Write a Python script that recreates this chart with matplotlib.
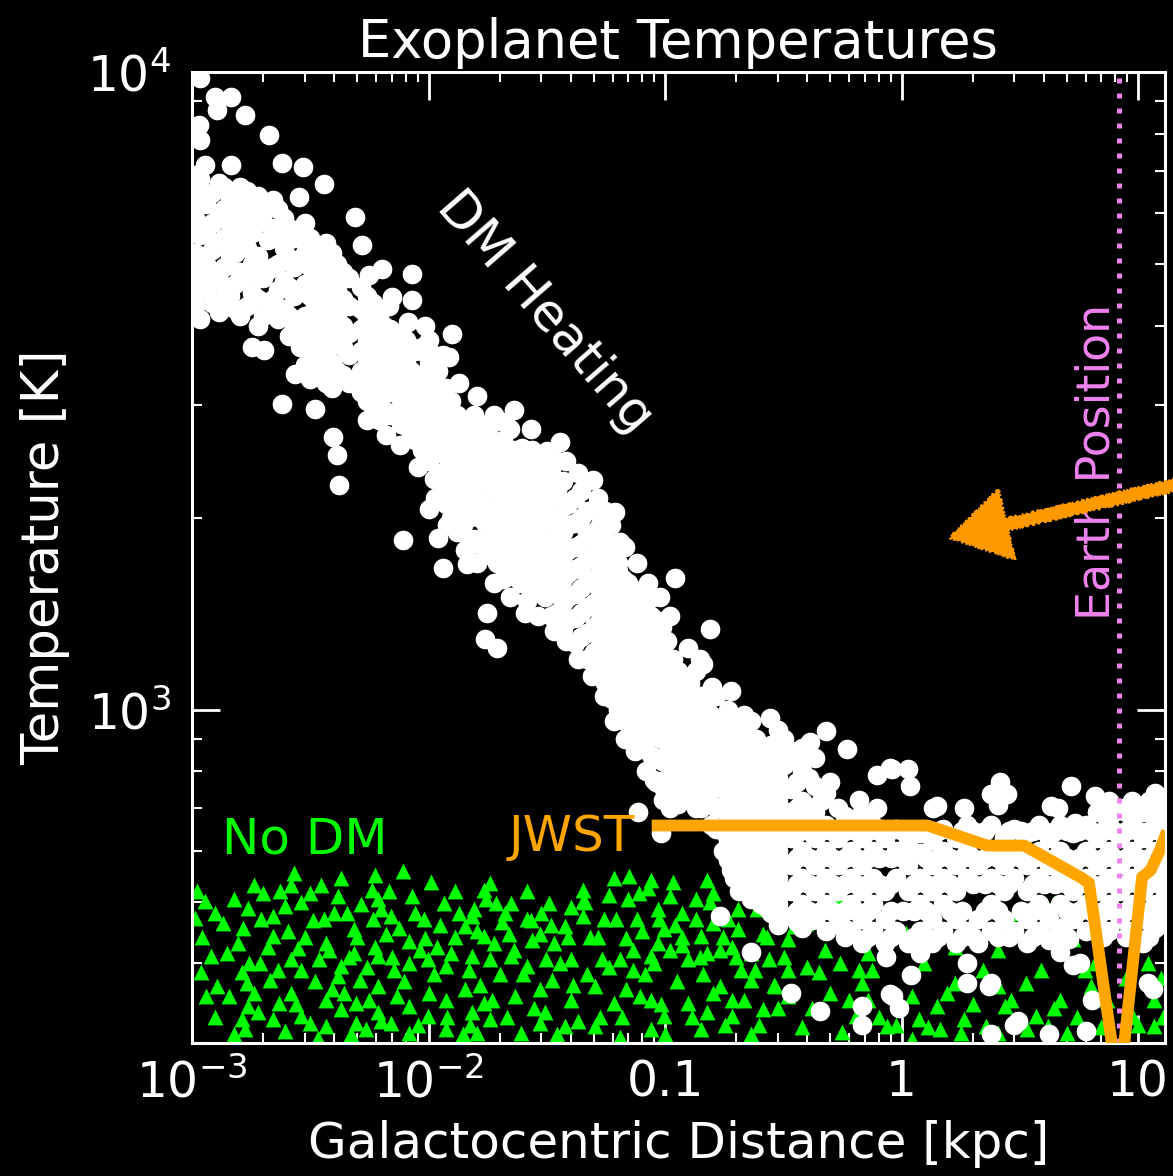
import numpy as np
import matplotlib
matplotlib.use("Agg")
import matplotlib.pyplot as plt
from matplotlib.patches import FancyArrowPatch
from matplotlib.ticker import FixedLocator, FixedFormatter, LogLocator, NullFormatter

plt.rcParams['font.family'] = ['DejaVu Sans']
plt.rcParams['mathtext.fontset'] = 'dejavusans'

# ---------------- data ----------------
earth_kpc = 8.3
jwst_x = [0.093, 1.29, 2.3, 3.3, 5.7, 6.2, 8.3, 10.4, 11.3, 12.4, 13.0]
jwst_T = [658, 658, 612, 612, 546, 535, 250, 546, 560, 603, 632]

# White dots ("DM heating") - sparse / outlying points
white_sparse_x = [1.08e-3, 1.25e-3, 1.46e-3, 1.28e-3, 1.68e-3, 1.07e-3, 1.08e-3, 2.12e-3, 2.40e-3, 2.95e-3,
                  1.46e-3, 1.13e-3, 1.03e-3, 3.62e-3, 2.83e-3, 2.01e-3, 4.89e-3, 5.24e-3, 6.36e-3, 8.52e-3,
                  7.0e-3, 8.5e-3, 1.26e-2, 1.22e-2, 9.4e-3, 1.05e-2, 1.11e-2, 2.40e-3, 3.31e-3, 2.73e-3,
                  3.0e-3, 1.79e-3, 2.01e-3, 9.1e-3, 1.89e-2, 2.11e-2,
                  7.8e-3, 1.1e-2, 1.0e-2, 1.15e-2, 1.45e-2, 1.77e-2, 1.73e-2, 1.94e-2, 4.2e-3, 3.95e-3,
                  4.1e-3, 4.96e-2, 5.06e-2, 6.15e-2, 6.44e-2, 6.3e-2, 0.110, 8.88e-2, 0.155, 0.145,
                  3.6e-2, 3.17e-2, 2.49e-2, 2.44e-2, 2.06e-2, 1.79e-2, 1.40e-2,
                  0.278, 0.30, 0.48, 0.41, 0.59, 0.79, 0.91, 1.07, 1.09, 0.50,
                  0.66, 0.79, 1.41, 1.84, 2.61, 2.39, 2.80, 2.56, 5.2, 6.6,
                  12.1, 5.4, 7.4, 4.6, 0.89, 1.36, 4.3, 0.09, 0.098, 0.077, 0.096, 0.158]
white_sparse_T = [9800, 9140, 9140, 8720, 8560, 8260, 7820, 7970, 7200, 7100,
                  7150, 7150, 6900, 6680, 6370, 6210, 5930, 5360, 4910, 4820,
                  4440, 4390, 3880, 3570, 3700, 3300, 2990, 3020, 2960, 3360,
                  3470, 3700, 3660, 3270, 2830, 2830,
                  1845, 1860, 2060, 1670, 1690, 1420, 1290, 1250, 2250, 2680,
                  2510, 2290, 2070, 2042, 1830, 1700, 1610, 1500, 1340, 1180,
                  2630, 2540, 2570, 2450, 2350, 2800, 2720,
                  971, 930, 924, 891, 866, 789, 808, 808, 760, 771,
                  722, 700, 706, 702, 771, 737, 737, 709, 758, 733,
                  731, 665, 677, 700, 810, 700, 705, 775, 722, 690, 640, 1086]

# White dots - ragged edges of the band and the top of the flat mass
white_edge_x = [5.6e-3, 6.8e-3, 8.2e-3, 9.7e-3, 1.15e-2, 1.35e-2, 1.6e-2, 1.9e-2, 2.3e-2, 2.7e-2,
                3.2e-2, 3.8e-2, 4.3e-2, 5.2e-2, 5.9e-2, 6.8e-2, 7.6e-2, 8.5e-2, 9.5e-2, 0.105,
                0.125, 0.14, 0.165, 0.19, 0.215,
                5.5e-3, 6.6e-3, 7.6e-3, 9.0e-3, 1.07e-2, 1.2e-2, 1.42e-2, 1.6e-2, 1.9e-2, 2.2e-2,
                2.55e-2, 2.9e-2, 3.4e-2, 3.8e-2, 4.3e-2, 4.9e-2, 5.5e-2, 6.1e-2, 6.8e-2, 7.5e-2,
                8.3e-2, 0.105,
                0.30, 0.32, 0.32, 0.34, 0.36, 0.38, 0.405, 0.43, 0.43]
white_edge_T = [4800, 4300, 4050, 4000, 3600, 3250, 3100, 2900, 2950, 2750,
                2500, 2450, 2350, 2150, 1950, 1800, 1700, 1580, 1500, 1400,
                1250, 1200, 1050, 1070, 980,
                2850, 2700, 2600, 2400, 2150, 1950, 1780, 1700, 1580, 1500,
                1420, 1400, 1330, 1280, 1200, 1130, 1050, 960, 900, 860,
                800, 700,
                850, 900, 820, 860, 830, 870, 780, 760, 840]

# White dots - dense core near 1e-3 .. 5e-3 kpc (column x value, T values)
white_core_x = [1.03e-3, 1.08e-3, 1.15e-3, 1.22e-3, 1.30e-3, 1.37e-3, 1.45e-3, 1.52e-3, 1.60e-3, 1.70e-3,
                1.80e-3, 1.90e-3, 2.00e-3, 2.10e-3, 2.20e-3, 2.32e-3, 2.45e-3, 2.57e-3, 2.70e-3, 2.85e-3,
                3.00e-3, 3.15e-3, 3.30e-3, 3.50e-3, 3.70e-3, 3.90e-3, 4.10e-3, 4.35e-3, 4.60e-3]
white_core_T = [
    [6500, 5900, 5200, 4800, 4300],
    [6800, 6200, 5550, 5000, 4550, 4100],
    [6200, 5600, 5000, 4550],
    [6450, 5800, 5250, 4750, 4350],
    [6700, 6000, 5400, 4700, 4200],
    [6600, 6100, 5500, 4950, 4450],
    [6350, 5750, 5150, 4450],
    [6300, 5700, 5200, 4650, 4250],
    [6600, 6000, 5450, 4850, 4150],
    [6500, 5850, 5300, 4750, 4300],
    [6200, 5600, 5000, 4500],
    [6400, 5800, 5150, 4400, 4000],
    [6000, 4750, 4150],
    [6150, 5450, 4900, 4350],
    [6300, 5700, 4950, 4400],
    [6100, 5500, 5000, 4550, 4100],
    [5900, 5300, 4700, 4250],
    [5700, 5100, 4600, 4150, 3850],
    [5500, 4950, 4450, 4000],
    [5650, 5050, 4550, 4100, 3700],
    [5800, 5200, 4650, 4150, 3800],
    [5500, 4950, 4450, 4000, 3650, 3300],
    [5300, 4800, 4300, 3900, 3500],
    [5100, 4600, 4150, 3750, 3400],
    [5400, 4900, 4450, 4050, 3600, 3250],
    [5200, 4700, 4300, 3900, 3500, 3200],
    [5000, 4550, 4150, 3800, 3400],
    [4850, 4400, 4000, 3700, 3350],
    [4750, 4300, 3900, 3600, 3250],
]

# White dots - diagonal band (column x value, T values in that column)
white_band_x = [5.2e-3, 5.5e-3, 5.8e-3, 6.15e-3, 6.5e-3, 6.9e-3, 7.3e-3, 7.65e-3, 8.0e-3, 8.4e-3,
                8.8e-3, 9.4e-3, 1.0e-2, 1.05e-2, 1.1e-2, 1.18e-2, 1.25e-2, 1.32e-2, 1.4e-2, 1.47e-2,
                1.55e-2, 1.65e-2, 1.75e-2, 1.85e-2, 1.95e-2, 2.07e-2, 2.2e-2, 2.32e-2, 2.45e-2, 2.6e-2,
                2.75e-2, 2.92e-2, 3.1e-2, 3.3e-2, 3.5e-2, 3.7e-2, 3.9e-2, 4.15e-2, 4.4e-2, 4.7e-2,
                5.0e-2, 5.3e-2, 5.6e-2, 5.95e-2, 6.3e-2, 6.65e-2, 7.0e-2, 7.4e-2, 7.8e-2, 8.25e-2,
                8.7e-2, 9.2e-2, 9.7e-2, 0.102, 0.108, 0.114, 0.12, 0.127, 0.135, 0.142,
                0.15, 0.157, 0.165, 0.175, 0.185, 0.195, 0.205, 0.218, 0.23, 0.242,
                0.255, 0.267, 0.28]
white_band_T = [
    [4600, 4250, 3950, 3650, 3400, 3150],
    [4450, 4100, 3800, 3550, 3300, 3050],
    [4350, 4000, 3750, 3500, 3250, 3000],
    [4150, 3850, 3600, 3350, 3100, 2850],
    [4000, 3750, 3500, 3250, 2950],
    [3950, 3650, 3400, 3150, 2900],
    [3900, 3650, 3400, 3150, 2900],
    [3800, 3550, 3300, 3050, 2800],
    [3800, 3500, 3250, 3000, 2780],
    [3700, 3400, 3150, 2900, 2700],
    [3650, 3350, 3100, 2850, 2650],
    [3650, 3350, 3050, 2800, 2550],
    [3800, 3500, 3200, 2950, 2700, 2450],
    [3600, 3300, 3050, 2800, 2550, 2300],
    [3400, 3100, 2850, 2600, 2350],
    [3200, 2950, 2700, 2500, 2250, 2100],
    [3050, 2800, 2600, 2400, 2200, 2000],
    [2900, 2700, 2500, 2300, 2100, 1900],
    [2750, 2550, 2350, 2150, 1950],
    [2800, 2600, 2400, 2200, 2000, 1800],
    [2900, 2650, 2450, 2250, 2050, 1850],
    [2750, 2550, 2350, 2150, 2000, 1820],
    [2700, 2500, 2300, 2100, 1950, 1780],
    [2650, 2450, 2250, 2050, 1900, 1740],
    [2600, 2400, 2200, 2000, 1850, 1700],
    [2650, 2450, 2250, 2080, 1900, 1750, 1600],
    [2750, 2500, 2300, 2150, 1950, 1800, 1620],
    [2550, 2350, 2150, 2000, 1830, 1680],
    [2400, 2200, 2050, 1880, 1720, 1580],
    [2450, 2280, 2100, 1920, 1760, 1620, 1480],
    [2550, 2350, 2150, 1950, 1800, 1650, 1520],
    [2400, 2200, 2030, 1870, 1720, 1570],
    [2300, 2100, 1950, 1780, 1640, 1500],
    [2350, 2150, 1970, 1810, 1670, 1530, 1400],
    [2450, 2200, 2000, 1850, 1700, 1560, 1420],
    [2280, 2080, 1900, 1750, 1600, 1470, 1340],
    [2100, 1950, 1780, 1640, 1500, 1380],
    [2150, 1960, 1800, 1660, 1520, 1390, 1270],
    [2200, 2000, 1820, 1680, 1550, 1420, 1300],
    [2050, 1880, 1720, 1580, 1450, 1320, 1200],
    [1900, 1750, 1600, 1470, 1350, 1230],
    [1950, 1800, 1650, 1510, 1380, 1260, 1150],
    [2050, 1850, 1700, 1550, 1420, 1300, 1190, 1100],
    [1750, 1600, 1470, 1350, 1230, 1130, 1040],
    [1650, 1520, 1400, 1280, 1170, 1080, 1000],
    [1600, 1470, 1350, 1240, 1140, 1050, 970],
    [1580, 1450, 1330, 1220, 1120, 1030, 950],
    [1540, 1410, 1300, 1190, 1090, 1000, 920],
    [1500, 1380, 1270, 1160, 1060, 980, 900],
    [1450, 1330, 1220, 1120, 1030, 950, 870],
    [1400, 1290, 1180, 1080, 1000, 920, 850],
    [1380, 1260, 1160, 1070, 990, 910, 840, 770],
    [1350, 1240, 1140, 1050, 970, 900, 830, 760],
    [1280, 1170, 1080, 1000, 920, 850, 780],
    [1200, 1100, 1020, 940, 870, 800, 740],
    [1150, 1050, 970, 900, 830, 770, 710],
    [1080, 1000, 930, 860, 795, 735],
    [1100, 1010, 930, 860, 790, 730],
    [1150, 1040, 960, 890, 820, 760, 700],
    [1050, 960, 890, 820, 760, 700],
    [1000, 925, 855, 790, 730],
    [980, 900, 830, 770, 710, 660],
    [950, 880, 815, 755, 700, 650],
    [970, 890, 820, 760, 700, 645, 600],
    [1000, 920, 850, 790, 730, 675, 625, 580],
    [940, 860, 800, 740, 685, 635, 590, 545],
    [900, 830, 770, 710, 660, 610, 560, 520],
    [910, 840, 775, 720, 665, 615, 570, 525],
    [960, 870, 800, 745, 690, 640, 590, 545, 505],
    [900, 830, 765, 705, 650, 600, 555, 515],
    [850, 790, 730, 675, 625, 580, 535, 495],
    [850, 785, 725, 670, 620, 575, 530, 490],
    [880, 815, 755, 700, 650, 600, 555, 515, 480],
]

# White dots - flat mass at large distance (column x value, T values)
white_mass_x = [0.30, 0.32, 0.34, 0.36, 0.38, 0.405, 0.43, 0.455, 0.48, 0.51,
                0.54, 0.575, 0.61, 0.645, 0.68, 0.72, 0.76, 0.805, 0.85, 0.9,
                0.95, 1.01, 1.07, 1.13, 1.2, 1.27, 1.35, 1.42, 1.5, 1.6,
                1.7, 1.8, 1.9, 2.0, 2.1, 2.25, 2.4, 2.55, 2.7, 2.85,
                3.0, 3.2, 3.4, 3.6, 3.8, 4.0, 4.2, 4.45, 4.7, 5.0,
                5.3, 5.65, 6.0, 6.35, 6.7, 7.1, 7.5, 7.95, 8.4, 8.9,
                9.4, 9.95, 10.5, 11.1, 11.8, 12.4, 13.0]
white_mass_T = [
    [780, 720, 660, 600, 545, 495, 460],
    [750, 690, 630, 575, 520, 475],
    [750, 690, 630, 570, 520, 475],
    [770, 700, 640, 585, 532, 483],
    [800, 720, 660, 600, 545, 495, 455],
    [700, 645, 585, 532, 483],
    [690, 630, 570, 520, 470],
    [720, 645, 585, 532, 483],
    [740, 660, 600, 545, 495, 450],
    [645, 585, 532, 483],
    [700, 630, 570, 520, 470],
    [680, 645, 585, 532, 483, 440],
    [660, 600, 545, 495, 450],
    [645, 585, 532, 483],
    [690, 630, 570, 520, 470, 430],
    [645, 585, 532, 483, 440],
    [660, 600, 545, 495, 450],
    [645, 585, 532],
    [630, 520, 470, 430],
    [585, 532, 483, 440],
    [650, 600, 545, 450],
    [645, 585, 483],
    [620, 570, 520, 430],
    [645, 532, 483, 440],
    [640, 595, 545, 495, 450, 415],
    [585, 532, 483, 440],
    [625, 570, 520, 470, 430],
    [645, 585, 532, 440],
    [650, 600, 545, 495, 450],
    [585, 532, 483],
    [630, 570, 520, 470, 430],
    [645, 585, 483, 440],
    [660, 600, 545, 450],
    [645, 585, 532, 440],
    [630, 570, 470, 430],
    [645, 585, 532, 483],
    [660, 600, 545, 495, 450],
    [585, 532, 483, 440],
    [630, 570, 520, 470],
    [645, 585, 532, 440],
    [650, 600, 545, 450],
    [645, 585, 483],
    [640, 570, 520, 470, 430],
    [645, 585, 532, 483, 440],
    [660, 600, 545, 495, 450],
    [645, 585, 532, 483],
    [630, 570, 470, 435],
    [645, 585, 532, 440],
    [660, 600, 545, 495, 455],
    [645, 585, 532, 483, 440],
    [640, 570, 520, 470],
    [645, 585, 532, 483],
    [660, 600, 545, 495, 450],
    [645, 585, 532, 483],
    [690, 630, 570, 520, 470],
    [690, 645, 585, 532, 483, 440],
    [720, 660, 600, 545, 495, 450],
    [690, 645, 585, 532, 483],
    [700, 630, 570, 520, 470],
    [690, 645, 585, 532, 483, 440],
    [720, 660, 600, 545, 495, 450],
    [690, 645, 585, 532, 483],
    [690, 630, 570, 520, 470, 430],
    [720, 645, 585, 532, 483, 440],
    [740, 660, 600, 545, 495, 455],
    [690, 645, 585, 532, 483],
    [700, 630, 570, 520, 470],
]

# White dots - low outliers
white_low_x = [0.17, 0.19, 0.23, 0.34, 0.45, 0.36, 0.42, 0.57, 0.68, 0.68,
               0.92, 0.86, 1.1, 1.9, 1.9, 2.4, 3.1, 2.4, 5.3, 4.7,
               4.2, 6.0, 0.89, 0.98, 3.0, 2.35, 5.7, 6.4, 11.0, 11.6, 5.1]
white_low_T = [474, 560, 416, 360, 337, 465, 467, 455, 343, 320,
               355, 410, 383, 400, 373, 373, 325, 310, 397, 416,
               310, 313, 358, 340, 320, 368, 400, 350, 373, 365, 436]

# Green triangles ("No DM")
green_x = [2.71e-3, 4.27e-3, 5.95e-3, 7.82e-3, 1.83e-3, 2.63e-3, 3.15e-3, 4.15e-3, 5.77e-3, 1.02e-2,
           1.71e-2, 1.82e-2, 6.08e-2, 7.07e-2, 8.74e-2, 0.108, 0.151, 7.75e-2, 4.5e-2, 1.13e-3,
           1.72e-3, 2.48e-3, 2.19e-3, 3.25e-3, 4.53e-3, 6.32e-3, 6.93e-3, 6.14e-3, 1.16e-2, 1.56e-2,
           1.93e-2, 2.24e-2, 3.23e-2, 4.5e-2, 9.3e-2, 0.118, 0.160, 0.204, 0.245, 1.03e-3,
           1.57e-3, 2.19e-3, 2.80e-3, 3.67e-3, 4.82e-3, 5.95e-3, 4.82e-3, 8.29e-3, 9.66e-3, 1.09e-2,
           1.43e-2, 1.52e-2, 2.05e-2, 2.70e-2, 2.18e-2, 1.71e-2, 2.95e-2, 3.76e-2, 4.5e-2, 6.87e-2,
           9.88e-2, 0.118, 9.3e-2, 0.142, 0.160, 0.204, 0.260, 0.330, 0.351, 1.2e-3,
           1.09e-3, 1.27e-3, 1.62e-3, 1.94e-3, 2.13e-3, 2.63e-3, 2.88e-3, 3.45e-3, 4.27e-3, 4.15e-3,
           5.11e-3, 6.14e-3, 7.14e-3, 8.29e-3, 9.94e-3, 1.19e-2, 1.52e-2, 1.82e-2, 2.24e-2, 2.62e-2,
           3.14e-2, 3.99e-2, 5.40e-2, 6.46e-2, 7.29e-2, 8.74e-2, 0.105, 0.125, 0.151, 0.192,
           0.230, 0.276, 0.330, 0.447, 0.660, 0.474, 1.44e-3, 1.83e-3, 1.72e-3, 2.33e-3,
           2.63e-3, 2.88e-3, 3.67e-3, 4.27e-3, 4.96e-3, 6.14e-3, 7.35e-3, 8.29e-3, 6.14e-3, 4.96e-3,
           3.15e-3, 2.19e-3, 1.62e-3, 1.67e-3, 2.48e-3, 3.67e-3, 5.44e-3, 6.93e-3, 9.94e-3, 1.19e-2,
           1.43e-2, 1.71e-2, 2.32e-2, 2.95e-2, 3.33e-2, 3.99e-2, 5.08e-2, 6.08e-2, 6.87e-2, 8.74e-2,
           9.88e-2, 0.125, 0.151, 0.170, 0.192, 0.230, 0.293, 0.330, 0.260, 0.192,
           0.142, 8.74e-2, 6.46e-2, 5.08e-2, 3.76e-2, 2.95e-2, 1.82e-2, 1.52e-2, 1.19e-2, 8.29e-3,
           1.6e-2, 2.46e-2, 0.680, 0.723, 0.641, 1.11, 1.41, 1.18, 1.69, 1.84,
           2.73, 3.37, 3.69, 4.70, 4.99, 4.16, 5.30, 4.16, 5.98, 6.35,
           2.57, 2.27, 0.866, 1.45, 1.79, 2.57, 1.11, 11.7, 11.7, 11.0,
           12.1, 1.69, 2.57, 3.08, 4.42, 1.18, 0.535, 0.396, 0.723, 1.04,
           1.35e-3, 1.1e-3, 1.5e-3, 2.0e-3, 2.9e-3, 3.6e-3, 5.2e-3, 6.6e-3, 8.8e-3, 1.3e-2,
           1.3e-2, 2.0e-2, 2.6e-2, 3.4e-2, 4.0e-2, 4.8e-2, 5.5e-2, 5.8e-2, 7.6e-2, 8.2e-2,
           0.11, 0.135, 0.145, 0.175, 0.21, 0.3, 0.38, 0.5, 0.56, 0.8,
           1.3, 2.0, 3.4, 5.5, 7.0, 9.5, 12.5, 1.7e-3, 3.9e-3, 1.0e-2,
           1.5e-2, 2.8e-2, 4.3e-2, 0.1, 0.23]
green_T = [554, 544, 551, 558, 531, 531, 516, 510, 522, 537,
           522, 534, 544, 548, 541, 537, 541, 516, 522, 501,
           489, 492, 474, 468, 480, 486, 474, 504, 498, 486,
           498, 498, 498, 501, 486, 480, 516, 486, 486, 471,
           431, 441, 423, 431, 452, 425, 415, 433, 438, 425,
           457, 474, 465, 468, 444, 441, 444, 457, 474, 438,
           452, 428, 431, 441, 462, 452, 444, 436, 457, 411,
           387, 368, 387, 401, 377, 406, 391, 406, 396, 382,
           377, 411, 391, 401, 406, 396, 411, 406, 411, 396,
           406, 406, 406, 406, 391, 411, 420, 406, 415, 425,
           415, 406, 391, 387, 391, 420, 355, 360, 343, 347,
           360, 331, 351, 339, 347, 368, 355, 343, 335, 323,
           323, 327, 327, 315, 313, 319, 315, 323, 331, 351,
           364, 347, 355, 364, 377, 351, 368, 347, 364, 351,
           331, 347, 335, 368, 351, 377, 368, 355, 339, 331,
           315, 315, 307, 319, 319, 323, 327, 335, 315, 311,
           311, 311, 373, 351, 331, 355, 343, 327, 373, 327,
           343, 373, 331, 351, 311, 319, 436, 452, 391, 368,
           368, 319, 319, 315, 311, 311, 304, 319, 351, 401,
           457, 425, 420, 480, 498, 498, 504, 462, 415, 447,
           462, 440, 505, 515, 500, 470, 495, 445, 480, 440,
           520, 385, 470, 430, 490, 440, 470, 512, 470, 385,
           460, 505, 385, 440, 390, 340, 318, 360, 312, 330,
           318, 345, 315, 330, 318, 330, 380, 372, 365, 360,
           320, 340, 325, 310, 310]
green2_x = [1.05e-3, 1.15e-3, 1.25e-3, 1.4e-3, 1.5e-3, 1.65e-3, 1.75e-3, 1.9e-3, 1.95e-3, 1.25e-3,
            2.1e-3, 2.3e-3, 2.35e-3, 2.55e-3, 2.75e-3, 3.0e-3, 3.3e-3, 3.4e-3, 3.5e-3, 3.8e-3,
            4.0e-3, 4.4e-3, 4.6e-3, 4.7e-3,
            5.0e-3, 5.5e-3, 5.6e-3, 5.8e-3, 6.3e-3, 6.8e-3, 7.0e-3, 7.5e-3, 7.9e-3, 8.5e-3,
            9.0e-3, 9.2e-3, 9.6e-3,
            1.05e-2, 1.12e-2, 1.2e-2, 1.25e-2, 1.35e-2, 1.4e-2, 1.48e-2, 1.6e-2, 1.65e-2, 1.75e-2,
            1.85e-2, 1.9e-2,
            2.1e-2, 2.15e-2, 2.3e-2, 2.5e-2, 2.6e-2, 2.75e-2, 3.0e-2, 3.1e-2, 3.3e-2, 3.5e-2,
            3.6e-2, 3.9e-2, 4.1e-2, 4.6e-2, 4.7e-2,
            5.2e-2, 5.3e-2, 5.8e-2, 6.2e-2, 6.6e-2, 7.0e-2, 7.3e-2, 7.8e-2, 8.0e-2, 8.5e-2,
            9.0e-2, 9.4e-2, 9.6e-2,
            0.105, 0.112, 0.118, 0.13, 0.135, 0.14, 0.155, 0.16, 0.17, 0.18,
            0.185, 0.2, 0.215, 0.24, 0.25, 0.27, 0.29,
            0.32, 0.4, 0.42, 0.55, 0.6, 0.75, 0.95, 1.25, 1.55, 2.2,
            2.9, 3.9, 4.4, 6.6, 7.4, 8.9, 10.0, 12.8]
green2_T = [520, 355, 330, 415, 310, 455, 400, 335, 470, 480,
            425, 390, 520, 450, 345, 440, 375, 305, 530, 420,
            480, 360, 410, 310,
            440, 395, 350, 470, 325, 520, 410, 455, 375, 510,
            320, 420, 470,
            385, 460, 330, 415, 480, 310, 390, 450, 370, 505,
            350, 430,
            480, 330, 420, 385, 520, 435, 480, 335, 460, 310,
            400, 440, 370, 500, 385,
            440, 330, 395, 470, 330, 505, 420, 355, 450, 525,
            400, 470, 345,
            510, 375, 440, 330, 470, 410, 500, 360, 420, 320,
            470, 410, 350, 390, 320, 440, 370,
            410, 395, 340, 400, 350, 390, 320, 400, 360, 390,
            350, 390, 340, 400, 350, 380, 320, 330]

x_ticks = [1e-3, 1e-2, 0.1, 1, 10]
x_ticklabels = ['$10^{-3}$', '$10^{-2}$', '0.1', '1', '10']
y_ticks = [1e3, 1e4]
y_ticklabels = ['$10^3$', '$10^4$']

# ---------------- assemble point lists ----------------
wx = list(white_sparse_x) + list(white_edge_x) + list(white_low_x)
wT = list(white_sparse_T) + list(white_edge_T) + list(white_low_T)
for cols_x, cols_T in ((white_core_x, white_core_T), (white_band_x, white_band_T),
                       (white_mass_x, white_mass_T)):
    for xv, ts in zip(cols_x, cols_T):
        wx += [xv] * len(ts)
        wT += ts
gx = list(green_x) + list(green2_x)
gT = list(green_T) + list(green2_T)

# ---------------- figure ----------------
W, H = 1173, 1176
fig = plt.figure(figsize=(W / 100, H / 100), dpi=100, facecolor='black')
ax = fig.add_axes([192 / W, 1 - 1043 / H, 973 / W, 971 / H])
ax.set_facecolor('black')
ax.set_xscale('log')
ax.set_yscale('log')
ax.set_xlim(1e-3, 13)
ax.set_ylim(300, 1e4)

ax.scatter(gx, gT, marker='^', s=130, color='#00ff00', linewidths=0, zorder=2)
ax.scatter(wx, wT, marker='o', s=200, color='white', linewidths=0, zorder=3)
ax.axvline(earth_kpc, color='#ee82ee', lw=3.6, linestyle=(0, (1, 2)), zorder=4)
ax.plot(jwst_x, jwst_T, color='#ffa500', lw=8.5, zorder=5)

ax.text(1.34e-3, 626, 'No DM', color='#00ff00', fontsize=36, ha='left', va='center', zorder=6)
ax.text(0.075, 632, 'JWST', color='#ffa500', fontsize=36, ha='right', va='center', zorder=6)
ax.text(3.1e-2, 4200, 'DM Heating', color='white', fontsize=37, rotation=-49,
        ha='center', va='center', rotation_mode='anchor', zorder=6)
ax.text(6.7, 2450, 'Earth Position', color='#ee82ee', fontsize=33, rotation=90,
        ha='center', va='center', zorder=6)

arrow = FancyArrowPatch(posA=(15.8, 2270), posB=(1.6, 1860),
                        arrowstyle='simple,head_length=42,head_width=52,tail_width=8.5',
                        mutation_scale=1, color='#ff9900', transform=ax.transData,
                        clip_on=False, zorder=7, shrinkA=0, shrinkB=0)
arrow.set_sketch_params(scale=1.2, length=5, randomness=3)
ax.add_patch(arrow)

ax.set_title('Exoplanet Temperatures', color='white', fontsize=38, pad=10)
ax.set_xlabel('Galactocentric Distance [kpc]', color='white', fontsize=36, labelpad=9)
ax.set_ylabel('Temperature [K]', color='white', fontsize=37, labelpad=12)

ax.xaxis.set_major_locator(FixedLocator(x_ticks))
ax.xaxis.set_major_formatter(FixedFormatter(x_ticklabels))
ax.xaxis.set_minor_locator(LogLocator(base=10, subs=np.arange(2, 10), numticks=30))
ax.xaxis.set_minor_formatter(NullFormatter())
ax.yaxis.set_major_locator(FixedLocator(y_ticks))
ax.yaxis.set_major_formatter(FixedFormatter(y_ticklabels))
ax.yaxis.set_minor_locator(LogLocator(base=10, subs=np.arange(2, 10), numticks=30))
ax.yaxis.set_minor_formatter(NullFormatter())

ax.tick_params(which='major', direction='in', length=20, width=2, colors='white',
               labelsize=35, top=True, right=True, pad=11)
ax.tick_params(which='minor', direction='in', length=7.5, width=1.5, colors='white',
               top=True, right=True)
ax.tick_params(axis='y', which='major', pad=15)
for sp in ax.spines.values():
    sp.set_color('white')
    sp.set_linewidth(2.2)

fig.savefig('out.png', dpi=100, facecolor='black')
